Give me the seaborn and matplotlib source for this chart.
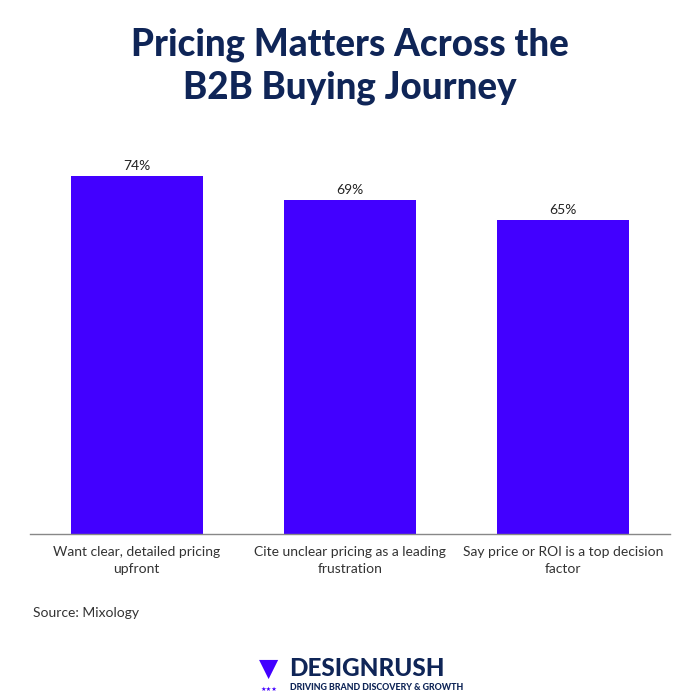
import matplotlib
matplotlib.use("Agg")
import matplotlib.pyplot as plt
import seaborn as sns
import pandas as pd

categories = ["Want clear, detailed pricing\nupfront",
              "Cite unclear pricing as a leading\nfrustration",
              "Say price or ROI is a top decision\nfactor"]
values = [74, 69, 65]
value_labels = ["74%", "69%", "65%"]

sns.set_theme(style="white")
plt.rcParams['font.family'] = ['Lato', 'DejaVu Sans']

df = pd.DataFrame({"cat": categories, "val": values})

fig = plt.figure(figsize=(7, 7), dpi=100)
ax = fig.add_axes([30/700, 1-534/700, 640/700, 387/700])
sns.barplot(data=df, x="cat", y="val", color="#4200ff", saturation=1,
            width=0.62, ax=ax, edgecolor="none")
ax.set_xlim(-0.5, 2.5)
ax.set_ylim(0, 80)
for i, (v, lab) in enumerate(zip(values, value_labels)):
    ax.text(i, v + 0.8, lab, ha="center", va="bottom", fontsize=10, color="#222222")
ax.set_xlabel("")
ax.set_ylabel("")
ax.set_yticks([])
ax.tick_params(axis="x", length=0, pad=9, labelsize=10, labelcolor="#333333")
for t in ax.get_xticklabels():
    t.set_linespacing(1.45)
for s in ["top", "left", "right"]:
    ax.spines[s].set_visible(False)
ax.spines["bottom"].set_color("#888888")
ax.spines["bottom"].set_linewidth(1)

fig.text(0.5, 1-45/700, "Pricing Matters Across the", ha="center", va="center",
         fontsize=26.5, fontweight="black", color="#0f2557")
fig.text(0.5, 1-88/700, "B2B Buying Journey", ha="center", va="center",
         fontsize=26.5, fontweight="black", color="#0f2557")
fig.text(33/700, 1-613/700, "Source: Mixology", ha="left", va="center",
         fontsize=10, color="#333333")
fig.text(289/700, 1-669/700, "DESIGNRUSH", ha="left", va="center",
         fontsize=17.5, fontweight="black", color="#0f2557")
fig.text(290/700, 1-687/700, "DRIVING BRAND DISCOVERY & GROWTH", ha="left", va="center",
         fontsize=6.4, fontweight="black", color="#0f2557")
fig.text(269/700, 1-669/700, "▼", ha="center", va="center", fontsize=18, color="#4200ff",
         family=['DejaVu Sans'])
fig.text(269/700, 1-689/700, "★★★", ha="center", va="center", fontsize=4.5, color="#4200ff",
         family=['DejaVu Sans'])

fig.savefig("out.png", dpi=100, facecolor="white")
